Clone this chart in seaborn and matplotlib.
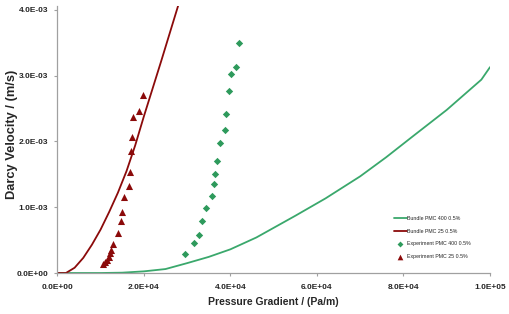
import matplotlib
matplotlib.use("Agg")
import matplotlib.pyplot as plt
import numpy as np
import pandas as pd
import seaborn as sns
from matplotlib.ticker import FuncFormatter

sns.set_theme(style="white")
plt.rcParams["font.family"] = ["Liberation Sans", "DejaVu Sans"]

# model curves (pressure gradient in Pa/m, Darcy velocity in m/s)
bundle_400_x = [0, 10e3, 15e3, 20e3, 25e3, 30e3, 35e3, 40e3, 46e3, 55e3, 62e3,
                70e3, 76e3, 82e3, 90e3, 98e3, 100e3]
bundle_400_y = [0, 0, 0.005e-3, 0.025e-3, 0.06e-3, 0.15e-3, 0.245e-3, 0.36e-3,
                0.54e-3, 0.87e-3, 1.135e-3, 1.47e-3, 1.76e-3, 2.07e-3, 2.48e-3,
                2.94e-3, 3.13e-3]
bundle_25_x = [0, 2e3, 4e3, 6e3, 8e3, 10e3, 12e3, 14e3, 16e3, 18e3, 20e3,
               22e3, 24e3, 26e3, 28e3]
bundle_25_y = [0, 0, 0.08e-3, 0.23e-3, 0.43e-3, 0.66e-3, 0.93e-3, 1.22e-3,
               1.55e-3, 1.94e-3, 2.38e-3, 2.80e-3, 3.22e-3, 3.65e-3, 4.08e-3]

# experiments
exp_400_x = [42.1e3, 41.2e3, 40.2e3, 39.65e3, 38.96e3, 38.8e3, 37.64e3, 36.81e3,
             36.42e3, 36.26e3, 35.73e3, 34.27e3, 33.35e3, 32.66e3, 31.57e3, 29.49e3]
exp_400_y = [3.50e-3, 3.13e-3, 3.03e-3, 2.77e-3, 2.425e-3, 2.17e-3, 1.98e-3,
             1.705e-3, 1.50e-3, 1.36e-3, 1.167e-3, 0.99e-3, 0.79e-3, 0.578e-3,
             0.452e-3, 0.285e-3]
exp_25_x = [19.72e3, 18.87e3, 17.55e3, 17.32e3, 16.95e3, 16.79e3, 16.49e3, 15.33e3,
            14.87e3, 14.71e3, 14.02e3, 12.86e3, 12.47e3, 12.17e3, 11.94e3, 11.55e3,
            11.02e3, 10.55e3]
exp_25_y = [2.70e-3, 2.466e-3, 2.37e-3, 2.075e-3, 1.852e-3, 1.537e-3, 1.32e-3,
            1.162e-3, 0.924e-3, 0.796e-3, 0.604e-3, 0.441e-3, 0.35e-3, 0.30e-3,
            0.248e-3, 0.198e-3, 0.163e-3, 0.142e-3]

GREEN_LINE = "#3aa86c"
GREEN_PT = "#2e9a5c"
RED = "#8b0a0a"
GREY = "#a0a0a0"

fig = plt.figure(figsize=(5.1, 3.14), dpi=100)
ax = fig.add_axes([57.3 / 510, 41 / 314, (490 - 57.3) / 510, 267 / 314])

sns.lineplot(x=bundle_400_x, y=bundle_400_y, ax=ax, color=GREEN_LINE, lw=1.3,
             sort=False, label="Bundle PMC 400 0.5%")
sns.lineplot(x=bundle_25_x, y=bundle_25_y, ax=ax, color=RED, lw=1.3,
             sort=False, label="Bundle PMC 25 0.5%")
sns.scatterplot(x=exp_400_x, y=exp_400_y, ax=ax, color=GREEN_PT, marker="D",
                s=14, linewidth=0, label="Experiment PMC 400 0.5%")
sns.scatterplot(x=exp_25_x, y=exp_25_y, ax=ax, color=RED, marker="^",
                s=26, linewidth=0, label="Experiment PMC 25 0.5%")

ax.set_xlim(0, 1.0e5)
ax.set_ylim(0, 4.06e-3)
ax.set_xticks(np.arange(0, 1.0e5 + 1, 2.0e4))
ax.set_yticks(np.arange(0, 4.0e-3 + 1e-9, 1.0e-3))
fmt = FuncFormatter(lambda v, p: f"{v:.1E}")
ax.xaxis.set_major_formatter(fmt)
ax.yaxis.set_major_formatter(fmt)
ax.tick_params(axis="both", which="major", length=2.5, width=0.8, color=GREY,
               labelsize=6, direction="out", bottom=True, left=True)
ax.tick_params(axis="x", pad=5.5)
ax.tick_params(axis="y", pad=4)
for lab in ax.get_xticklabels() + ax.get_yticklabels():
    lab.set_fontweight("bold")

for s in ["top", "right"]:
    ax.spines[s].set_visible(False)
for s in ["left", "bottom"]:
    ax.spines[s].set_color(GREY)
    ax.spines[s].set_linewidth(0.9)

ax.set_xlabel("Pressure Gradient / (Pa/m)", fontsize=7.5, fontweight="bold", labelpad=4)
ax.set_ylabel("Darcy Velocity / (m/s)", fontsize=9.3, fontweight="bold")
ax.yaxis.set_label_coords(-0.091, 0.52)

ax.legend(loc="upper left", bbox_to_anchor=(391 / 510, 1 - 213.5 / 314),
          bbox_transform=fig.transFigure, frameon=False, fontsize=3.8,
          handlelength=2.5, handletextpad=0.1, labelspacing=1.45,
          borderpad=0, markerscale=0.8)

fig.savefig("out.png", dpi=100)
